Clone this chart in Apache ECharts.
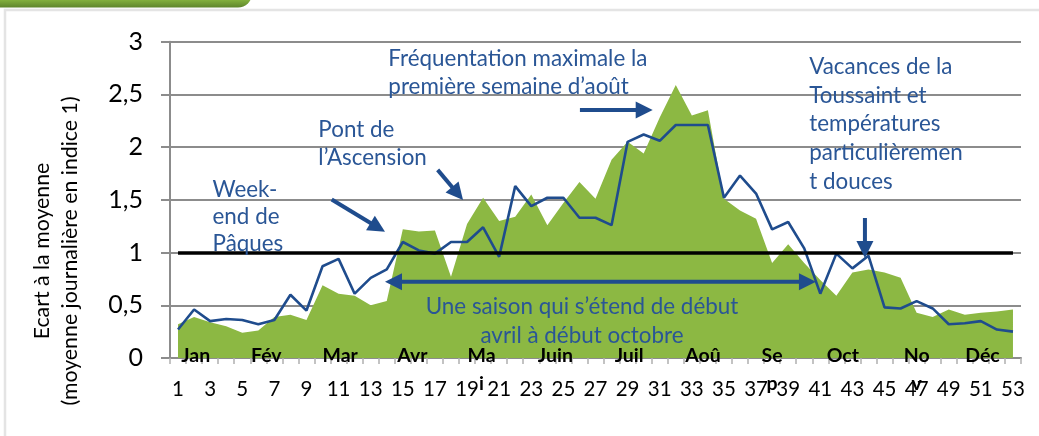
<!DOCTYPE html>
<html><head><meta charset="utf-8">
<script src="https://cdn.jsdelivr.net/npm/echarts@6/dist/echarts.min.js"></script>
<style>html,body{margin:0;padding:0;background:#fff;overflow:hidden}#c{width:1039px;height:436px}</style>
</head><body><div id="c"></div>
<script>
// ---- data ----
const weeks = ['1','2','3','4','5','6','7','8','9','10','11','12','13','14','15','16','17','18','19','20','21','22','23','24','25','26','27','28','29','30','31','32','33','34','35','36','37','38','39','40','41','42','43','44','45','46','47','48','49','50','51','52','53'];
// green area
const areaValues = [0.32,0.39,0.34,0.30,0.24,0.26,0.39,0.41,0.36,0.69,0.61,0.59,0.50,0.54,1.22,1.20,1.21,0.77,1.27,1.52,1.30,1.34,1.55,1.26,1.47,1.67,1.51,1.88,2.05,1.94,2.28,2.59,2.30,2.35,1.51,1.40,1.32,0.90,1.08,0.90,0.74,0.59,0.81,0.84,0.81,0.76,0.43,0.39,0.46,0.41,0.43,0.44,0.46];
// blue line
const lineValues = [0.27,0.46,0.35,0.37,0.36,0.32,0.36,0.60,0.45,0.87,0.94,0.61,0.76,0.84,1.10,1.02,0.99,1.10,1.10,1.24,0.96,1.63,1.44,1.52,1.52,1.33,1.33,1.26,2.05,2.12,2.06,2.21,2.21,2.21,1.52,1.73,1.56,1.22,1.29,1.04,0.61,0.99,0.85,0.97,0.48,0.47,0.54,0.47,0.32,0.33,0.35,0.27,0.25];
const referenceLevel = 1;
const yTicks = [0,0.5,1,1.5,2,2.5,3];
const monthNames = ['Jan','Fév','Mar','Avr','Ma\ni','Juin','Juil','Aoû','Se\np','Oct','No\nv','Déc'];
const monthPos = [2.1,6.5,11.1,15.6,19.9,24.5,29.1,33.7,38.0,42.4,47.0,51.1];
const yTitle = 'Ecart à la moyenne\n(moyenne journalière en indice 1)';
// annotations: text, anchor [week, value], align
const notes = [
  {text:'Week-\nend de\nPâques', at:[3.15,1.594], align:'left', lh:27},
  {text:'Pont de\nl’Ascension', at:[9.74,2.163], align:'left', lh:28},
  {text:'Fréquentation maximale la\npremière semaine d’août', at:[14.10,2.834], align:'left', lh:27.5},
  {text:'Vacances de la\nToussaint et\ntempératures\nparticulièremen\nt douces', at:[40.31,2.764], align:'left', lh:28.7},
  {text:'Une saison qui s’étend de début\navril à début octobre', at:[26.16,0.487], align:'center', lh:29.5}
];
const arrows = [
  {from:[10.57,1.503], to:[13.89,1.198]},
  {from:[17.17,1.784], to:[18.75,1.499]},
  {from:[26.03,2.353], to:[30.56,2.353]},
  {from:[43.78,1.328], to:[43.78,0.949]},
  {from:[13.89,0.724], to:[40.73,0.724], both:true}
];

const FONT = 'Lato, "Open Sans", sans-serif';
const BLUE = '#1F4C8D', TEXTBLUE = '#2A5696', GREEN = '#8CB843', GRID = '#8C8C8C';

const chart = echarts.init(document.getElementById('c'), null, {renderer:'canvas'});
chart.setOption({
  animation:false,
  grid:{left:170, right:18, top:41.7, bottom:78},
  xAxis:[{
    type:'category', data:weeks, boundaryGap:true,
    axisLine:{show:true, lineStyle:{color:GRID, width:2}},
    axisTick:{show:true, interval:0, length:6, lineStyle:{color:'#b0b0b0', width:1.5}},
    axisLabel:{interval:1, color:'#000', fontSize:20.5, fontFamily:FONT, margin:21},
    splitLine:{show:false}
  },{
    type:'value', min:0.5, max:53.5, show:false
  }],
  yAxis:{
    type:'value', min:0, max:3, interval:0.5,
    axisLine:{show:true, lineStyle:{color:GRID, width:2}},
    axisTick:{show:true, length:9, lineStyle:{color:GRID, width:2}},
    axisLabel:{color:'#000', fontSize:25, fontFamily:FONT, margin:27,
      formatter:v=>String(v).replace('.',',')},
    splitLine:{show:true, lineStyle:{color:GRID, width:2}}
  },
  series:[
    {type:'line', data:areaValues, symbol:'none', lineStyle:{width:0}, areaStyle:{color:GREEN, opacity:1}, z:2},
    {type:'line', data:lineValues, symbol:'none', lineStyle:{color:BLUE, width:2.6}, z:3},
    {type:'line', data:[], symbol:'none', z:4,
      markLine:{silent:true, symbol:['none','none'], label:{show:false},
        lineStyle:{color:'#000', width:3.5, type:'solid'},
        data:[[{coord:[weeks[0],referenceLevel]},{coord:[weeks[weeks.length-1],referenceLevel]}]]}}
  ]
});

function P(p){ return chart.convertToPixel({xAxisIndex:1, yAxisIndex:0}, p); }
function arrowEls(a){
  const p0 = P(a.from), p1 = P(a.to);
  const head = 17, hw = 8.5, lw = 4;
  const els = [];
  const dx = p1[0]-p0[0], dy = p1[1]-p0[1], L = Math.hypot(dx,dy);
  const ux = dx/L, uy = dy/L, nx = -uy, ny = ux;
  const s = a.both ? [p0[0]+ux*head, p0[1]+uy*head] : p0;
  const e = [p1[0]-ux*head, p1[1]-uy*head];
  els.push({type:'line', shape:{x1:s[0],y1:s[1],x2:e[0]+ux*2,y2:e[1]+uy*2}, style:{stroke:BLUE, lineWidth:lw}, z:20});
  els.push({type:'polygon', shape:{points:[[p1[0],p1[1]],[e[0]+nx*hw,e[1]+ny*hw],[e[0]-nx*hw,e[1]-ny*hw]]}, style:{fill:BLUE}, z:20});
  if(a.both){
    els.push({type:'polygon', shape:{points:[[p0[0],p0[1]],[s[0]+nx*hw,s[1]+ny*hw],[s[0]-nx*hw,s[1]-ny*hw]]}, style:{fill:BLUE}, z:20});
  }
  return els;
}
const g = [];
// frame
g.push({type:'rect', shape:{x:5,y:10,width:1060,height:460}, style:{fill:'none', stroke:'#E4E4E4', lineWidth:2.5}, z:0, silent:true});
g.push({type:'rect', shape:{x:-20,y:-10,width:272,height:17.5,r:[0,0,14,0]},
  style:{fill:new echarts.graphic.LinearGradient(0,0,0,1,[{offset:0,color:'#9CCB4C'},{offset:0.55,color:'#84B23E'},{offset:1,color:'#5E852B'}])}, z:0, silent:true});
// y-axis title
g.push({type:'text', x:56, y:251, rotation:Math.PI/2,
  style:{text:yTitle, x:0, y:0, align:'center', verticalAlign:'middle', fill:'#000', font:'21.3px '+FONT, lineHeight:28}, z:10});
// month labels
monthNames.forEach((m,i)=>{
  const p = P([monthPos[i], 0]);
  g.push({type:'text', style:{text:m, x:p[0], y:p[1]-2-14, align:'center', verticalAlign:'top', fill:'#000', font:'bold 19.5px '+FONT, lineHeight:28}, z:15});
});
// annotations
notes.forEach(n=>{
  const p = P(n.at);
  g.push({type:'text', style:{text:n.text, x:p[0], y:p[1]-n.lh/2, align:n.align, verticalAlign:'top', fill:TEXTBLUE, font:'22.4px '+FONT, lineHeight:n.lh}, z:15});
});
arrows.forEach(a=>arrowEls(a).forEach(e=>g.push(e)));
chart.setOption({graphic:g});
</script>
</body></html>
